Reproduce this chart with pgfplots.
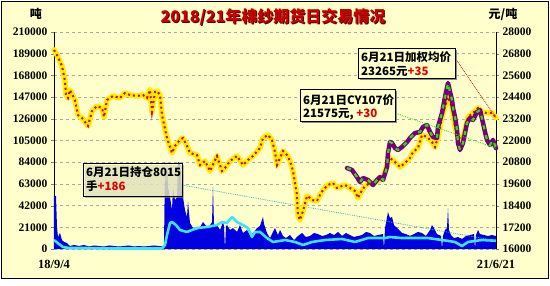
\documentclass[border=0pt]{standalone}
\usepackage{pgfplots}
\pgfplotsset{compat=1.18}
\usepackage{pgfplotstable}
\usepackage{fontspec}
\setmainfont{Liberation Serif}
\newfontfamily\cjk{Noto Sans CJK SC}
\definecolor{bg}{RGB}{255,255,204}
\definecolor{vblue}{RGB}{0,0,225}
\definecolor{oicyan}{RGB}{60,228,245}
\definecolor{py}{RGB}{255,238,0}
\definecolor{pr}{RGB}{225,0,0}
\definecolor{pp}{RGB}{120,0,120}
\definecolor{pg}{RGB}{40,225,20}
\definecolor{titred}{RGB}{205,0,0}
\definecolor{gridc}{RGB}{170,170,160}

\pgfplotstableread{
x v
0 51300
2 51300
3 21300
4 11600
6 15500
8 8700
10 6800
13 5800
16 2900
20 3900
25 2900
30 3900
35 2400
40 3400
45 2900
50 2400
55 3400
60 2900
65 2400
70 2900
75 3400
80 2400
85 2900
90 2400
95 2900
100 3400
105 2900
110 2400
111 84200
112 60000
113 84200
114 60000
116 50300
118 37700
119 60000
121 47400
123 50300
124 84200
126 83200
128 54200
129 50300
131 37700
133 31000
134 45500
136 25200
139 20300
143 18400
146 21300
149 26100
153 21300
156 23200
158 26100
159 60000
160 23200
163 23200
166 18400
169 26100
170 22000
171 0
172 22000
173 23200
176 18400
179 20300
183 16500
186 23200
189 15500
193 18400
196 13500
199 15500
203 20300
206 22300
209 31000
210 24200
213 15500
216 10600
219 16500
221 20300
224 13500
226 18400
229 12600
232 10600
236 13500
240 8700
244 12600
248 15500
252 11600
256 12600
260 15500
264 14500
268 12600
272 13500
276 15500
280 13500
284 16500
288 12600
292 15500
296 13500
300 11600
304 12600
308 13500
312 16500
316 15500
320 12600
324 13500
329 14500
330 0
331 20300
334 35800
336 30000
338 31000
340 23200
342 21300
345 18400
348 15500
352 14500
356 12600
360 14500
364 16500
368 15500
372 12600
376 18400
378 23200
380 20300
383 14500
387 12600
388 0
389 12600
391 18400
393 20300
394 39700
395 18400
397 13500
400 10600
404 11600
408 9700
412 12600
416 13500
420 14500
421 0
422 13500
424 18400
426 14500
430 13500
434 12600
438 13500
442 12600
}\volume

\pgfplotstableread{
x oi
0 8700
5 4800
9 1900
15 970
30 970
60 500
90 500
108 500
111 3900
113 13500
116 25200
118 26100
122 23200
126 18400
133 16500
143 20300
153 21300
163 23200
168 26100
173 25200
178 31000
183 26100
189 23200
194 20300
198 11600
201 16500
206 16500
213 10600
219 6800
225 7700
231 8700
241 6800
249 3900
258 6800
271 8700
288 9700
301 6800
314 10600
331 10600
336 11600
348 10600
361 10600
374 10600
388 8700
401 6800
408 2900
414 6800
428 8700
442 8015
}\openint

\pgfplotstableread{
x p
0 27005
3 26728
8 26120
11 25290
12 24516
14 24350
16 24793
18 24570
21 24240
24 23410
28 23244
31 23023
34 22802
38 23631
43 23908
48 23797
50 23300
53 24240
59 24461
66 24350
71 24627
76 24516
83 24461
89 24516
93 24350
96 24793
98 23576
101 24682
103 24737
106 24516
108 23410
113 22138
118 21309
121 21696
126 22028
129 22138
133 21696
136 21309
143 21198
146 20645
151 20866
156 20313
163 21143
168 20313
171 20479
176 20866
183 21143
189 20645
194 20922
199 21143
206 21585
209 22138
214 22304
218 22028
221 21364
223 20645
226 21032
229 21419
233 21198
236 20866
239 20313
243 18986
244 17880
246 17604
249 18101
253 18931
256 18820
258 18710
263 18655
266 18986
269 19263
274 19539
279 19650
283 19373
288 19484
291 19539
296 19373
301 19207
304 18820
307 19152
311 19484
316 19650
324 19760
329 19926
333 20645
336 21032
341 20811
346 20535
351 20756
356 21032
359 21364
364 21585
368 22304
373 22194
378 21917
381 21641
384 22194
388 23300
391 23853
394 24406
398 23853
401 22747
404 22194
408 22028
411 22581
414 23300
419 23521
424 23797
428 23576
433 23521
438 23521
442 23265
}\wavg

\pgfplotstableread{
x p
293 20479
298 20369
303 19982
306 19705
309 19926
314 19816
319 19539
323 19816
326 19982
329 19816
333 20535
334 21309
336 21917
338 21862
341 21585
344 21475
348 21641
353 21917
356 22138
361 22415
366 22470
369 22747
373 22857
376 22470
379 22194
383 22138
384 22747
388 23521
391 24406
394 25180
396 24682
398 24240
399 23797
401 23300
403 22581
404 21862
406 21475
409 21862
411 22415
413 22968
416 23244
419 23134
423 23576
426 23687
429 22968
431 22470
433 22028
436 21751
439 22028
442 21575
}\cyprice

\begin{document}
\begin{tikzpicture}[x=1pt,y=1pt]
\fill[white] (0,0) rectangle (550,285);
\fill[bg, draw=black, line width=1pt] (1.5,7) rectangle (548,283.5);

\begin{axis}[
  at={(54pt,36pt)}, anchor=south west,
  scale only axis, width=442pt, height=217pt,
  xmin=0, xmax=442, ymin=0, ymax=210000,
  axis y line*=left, axis x line*=bottom,
  x axis line style={draw=none},
  xtick={0,442}, xticklabels={18/9/4,21/6/21},
  xtick style={draw=none},
  xticklabel style={font=\bfseries\fontsize{12.5}{13}\selectfont, yshift=-5pt},
  ytick={0,21000,...,210000},
  ymajorgrids, grid style={gridc, dash pattern=on 3pt off 3pt, line width=0.6pt},
  yticklabel style={font=\bfseries\fontsize{11.5}{12}\selectfont},
  scaled y ticks=false,
  /pgf/number format/.cd, fixed, 1000 sep={}, assume math mode=true,
  /pgfplots/.cd,
  tick align=outside, major tick length=3pt,
  y axis line style={line width=0.8pt},
  axis background/.style={fill=none},
]
\addplot[fill=vblue, draw=none] table[x=x,y=v] {\volume} \closedcycle;
\addplot[oicyan, line width=2.6pt, line join=round] table[x=x,y=oi] {\openint};
\draw[oicyan!80!black, densely dotted, line width=0.8pt] (axis cs:128,61900) -- (axis cs:442,8015);
\end{axis}

\begin{axis}[
  at={(54pt,36pt)}, anchor=south west,
  scale only axis, width=442pt, height=217pt,
  xmin=0, xmax=442, ymin=16000, ymax=28000,
  axis y line*=right, axis x line=none,
  ytick={16000,17200,18400,19600,20800,22000,23200,24400,25600,26800,28000},
  yticklabel style={font=\bfseries\fontsize{11.5}{12}\selectfont},
  scaled y ticks=false,
  /pgf/number format/.cd, fixed, 1000 sep={}, assume math mode=true,
  /pgfplots/.cd,
  tick align=outside, major tick length=3pt,
  y axis line style={line width=0.8pt},
  clip=false,
]
\addplot[py, line width=5.5pt, line join=round, line cap=round] table[x=x,y=p] {\wavg};
\addplot[pr, line width=2pt, dash pattern=on 2pt off 3pt] table[x=x,y=p] {\wavg};
\addplot[pp, line width=4.5pt, line join=round, line cap=round] table[x=x,y=p] {\cyprice};
\addplot[pg, line width=2.2pt, dash pattern=on 4pt off 6pt] table[x=x,y=p] {\cyprice};
\draw[pr, densely dotted, line width=0.8pt] (axis cs:401,26562) -- (axis cs:442,23265);
\draw[pg, densely dotted, line width=0.8pt] (axis cs:341,23521) -- (axis cs:442,21575);
\end{axis}

% title and unit labels
\node[text=black!70!red, font=\cjk\bfseries\fontsize{16}{16}\selectfont] at (274,267.2) {2018/21年棉纱期货日交易情况};
\node[text=titred, font=\cjk\bfseries\fontsize{16}{16}\selectfont] at (273,268) {2018/21年棉纱期货日交易情况};
\node[font=\cjk\bfseries\fontsize{12}{12}\selectfont] at (36,271) {吨};
\node[font=\cjk\bfseries\fontsize{12}{12}\selectfont] at (503,271) {元/吨};

% annotation boxes
\fill[black!45] (359.5,205.5) rectangle (456.5,235.5);
\draw[fill=bg, line width=0.8pt] (358,207) rectangle (455,237);
\node[anchor=west, font=\cjk\bfseries\fontsize{11.5}{12}\selectfont, inner sep=0] at (361,228) {6月21日加权均价};
\node[anchor=west, font=\cjk\bfseries\fontsize{11.5}{12}\selectfont, inner sep=0] at (361,214) {23265元\textcolor{pr}{+35}};

\fill[black!45] (301.5,162.5) rectangle (396.5,194.5);
\draw[fill=bg, line width=0.8pt] (300,164) rectangle (395,196);
\node[anchor=west, font=\cjk\bfseries\fontsize{11.5}{12}\selectfont, inner sep=0] at (303,185) {6月21日CY107价};
\node[anchor=west, font=\cjk\bfseries\fontsize{11.5}{12}\selectfont, inner sep=0] at (303,171) {21575元, \textcolor{pr}{+30}};

\fill[black!45, opacity=0.6] (84.5,87.5) rectangle (183.5,120.5);
\draw[fill=bg, fill opacity=0.65, line width=0.8pt] (83,89) rectangle (182,122);
\node[anchor=west, font=\cjk\bfseries\fontsize{11.5}{12}\selectfont, inner sep=0] at (86,113) {6月21日持仓8015};
\node[anchor=west, font=\cjk\bfseries\fontsize{11.5}{12}\selectfont, inner sep=0] at (86,99) {手\textcolor{pr}{+186}};
\end{tikzpicture}
\end{document}
